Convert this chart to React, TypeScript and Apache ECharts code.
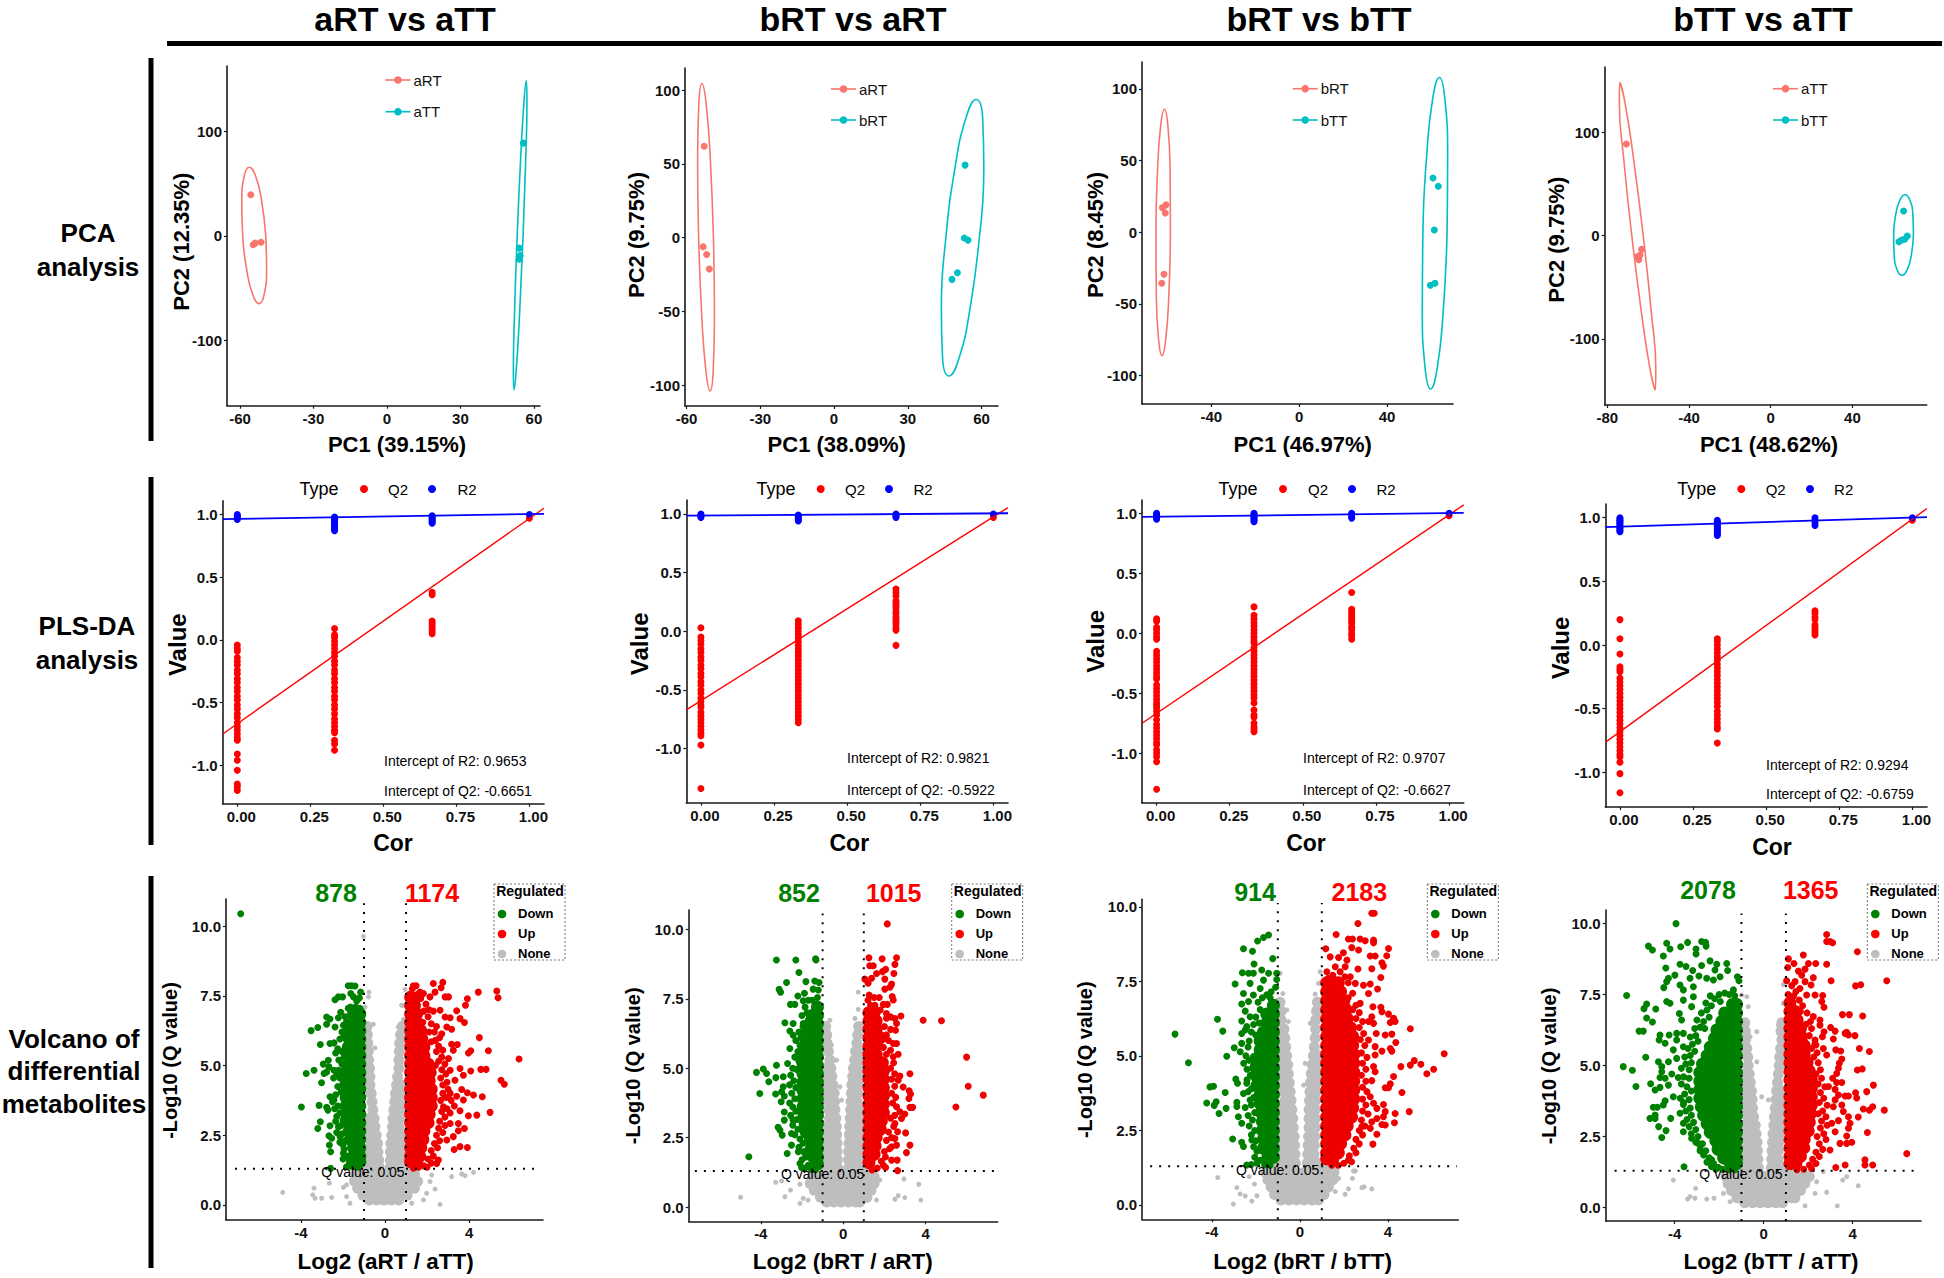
import React, { useEffect, useRef } from "react";
import * as echarts from "echarts";

// ---------- column heads and labels ----------
const columnTitles = ["aRT vs aTT", "bRT vs aRT", "bRT vs bTT", "bTT vs aTT"];
const pcaXNames = ["PC1 (39.15%)", "PC1 (38.09%)", "PC1 (46.97%)", "PC1 (48.62%)"];
const pcaYNames = ["PC2 (12.35%)", "PC2 (9.75%)", "PC2 (8.45%)", "PC2 (9.75%)"];
const pcaGroups = [["aRT", "aTT"], ["aRT", "bRT"], ["bRT", "bTT"], ["aTT", "bTT"]];
const volcanoXNames = ["Log2 (aRT / aTT)", "Log2 (bRT / aRT)", "Log2 (bRT / bTT)", "Log2 (bTT / aTT)"];
const downCounts = ["878", "852", "914", "2078"];
const upCounts = ["1174", "1015", "2183", "1365"];
const r2Notes = ["Intercept of R2: 0.9653", "Intercept of R2: 0.9821", "Intercept of R2: 0.9707", "Intercept of R2: 0.9294"];
const q2Notes = ["Intercept of Q2: -0.6651", "Intercept of Q2: -0.5922", "Intercept of Q2: -0.6627", "Intercept of Q2: -0.6759"];

// ---------- ticks ----------
const pcaXTicks = [[-60, -30, 0, 30, 60], [-60, -30, 0, 30, 60], [-40, 0, 40], [-80, -40, 0, 40]];
const pcaYTicks = [[-100, 0, 100], [-100, -50, 0, 50, 100], [-100, -50, 0, 50, 100], [-100, 0, 100]];
const plsXTicks = [0, 0.25, 0.5, 0.75, 1];
const plsYTicks = [-1, -0.5, 0, 0.5, 1];
const volXTicks = [-4, 0, 4];
const volYTicks = [0, 2.5, 5, 7.5, 10];

// ---------- PCA points ----------
const pca1A = [[-55.6, 39.4], [-54.6, -8.6], [-53.8, -7], [-51.4, -6.1]];
const pca1B = [[55.7, 89], [54, -11.8], [54.4, -18.9], [54, -22.4]];
const pca2A = [[-52.8, 62], [-53.2, -6.1], [-51.8, -11.3], [-50.7, -21.2]];
const pca2B = [[53.3, 49.2], [53, -0.2], [54.5, -1.6], [50.2, -23.7], [48, -28.2]];
const pca3A = [[-62.2, 17.2], [-60.6, 19.1], [-60.9, 13.5], [-61.5, -29.3], [-62.5, -35.6]];
const pca3B = [[60.9, 37.9], [63.3, 32.1], [61.5, 1.6], [61.8, -35.6], [59.7, -37]];
const pca4A = [[-70.7, 88.7], [-63.2, -13.2], [-65.3, -20.3], [-64, -18.7], [-64.6, -23.2]];
const pca4B = [[65.1, 23.9], [66.9, -0.3], [65.6, -3.5], [64.2, -4.2], [62.8, -5.8]];

// ---------- PCA ellipse outlines ----------
const ell1A = [[-49.5, 0.45], [-49.13, -32.28], [-50.12, -56.23], [-52.2, -65], [-54.82, -56.23], [-57.27, -32.28], [-58.9, 0.45], [-59.27, 33.18], [-58.28, 57.13], [-56.2, 65.9], [-53.58, 57.13], [-51.13, 33.18], [-49.5, 0.45]];
const ell1B = [[55.6, 0.5], [54.19, -73.65], [52.83, -127.9], [51.9, -147.8], [51.63, -127.9], [52.11, -73.65], [53.2, 0.5], [54.61, 74.65], [55.97, 128.9], [56.9, 148.8], [57.17, 128.9], [56.69, 74.65], [55.6, 0.5]];
const ell2A = [[-49.05, 0.35], [-48.62, -51.73], [-49.12, -89.84], [-50.4, -103.8], [-52.12, -89.84], [-53.82, -51.73], [-55.05, 0.35], [-55.48, 52.43], [-54.98, 90.54], [-53.7, 104.5], [-51.98, 90.54], [-50.28, 52.43], [-49.05, 0.35]];
const ell2B = [[59.1, 0], [55.44, -46.85], [50.94, -81.14], [46.8, -93.7], [44.14, -81.14], [43.66, -46.85], [45.5, 0], [49.16, 46.85], [53.66, 81.14], [57.8, 93.7], [60.46, 81.14], [60.94, 46.85], [59.1, 0]];
const ell3A = [[-58.55, -0.1], [-59.27, -43.05], [-60.68, -74.49], [-62.4, -86], [-63.98, -74.49], [-64.99, -43.05], [-65.15, -0.1], [-64.43, 42.85], [-63.02, 74.29], [-61.3, 85.8], [-59.72, 74.29], [-58.71, 42.85], [-58.55, -0.1]];
const ell3B = [[67.3, -0.65], [65.56, -54.98], [62.82, -94.74], [59.8, -109.3], [57.32, -94.74], [56.04, -54.98], [56.3, -0.65], [58.04, 53.68], [60.78, 93.44], [63.8, 108], [66.28, 93.44], [67.56, 53.68], [67.3, -0.65]];
const ell4A = [[-62.4, -0.5], [-58.43, -74.95], [-56.27, -129.4], [-56.5, -149.4], [-59.07, -129.4], [-63.27, -74.95], [-68, -0.5], [-71.97, 73.95], [-74.13, 128.4], [-73.9, 148.4], [-71.33, 128.4], [-67.13, 73.95], [-62.4, -0.5]];
const ell4B = [[69.9, 0.65], [68.87, -18.88], [66.83, -33.17], [64.3, -38.4], [61.97, -33.17], [60.47, -18.88], [60.2, 0.65], [61.23, 20.18], [63.27, 34.47], [65.8, 39.7], [68.13, 34.47], [69.63, 20.18], [69.9, 0.65]];

// ---------- PLS-DA permutation values, one list per Cor column ----------
const plsCor = [0, 0.333, 0.667, 1];
const p1Q2 = [
  [-0.04, -0.07, -0.09, -0.14, -0.17, -0.2, -0.24, -0.27, -0.31, -0.34, -0.38, -0.41, -0.45, -0.48, -0.52, -0.55, -0.59, -0.62, -0.66, -0.69, -0.72, -0.75, -0.78, -0.8, -0.91, -0.96, -1.04, -1.15, -1.17, -1.2],
  [0.09, 0.04, 0.02, -0.01, -0.04, -0.07, -0.1, -0.13, -0.17, -0.2, -0.24, -0.27, -0.31, -0.34, -0.38, -0.41, -0.45, -0.48, -0.52, -0.55, -0.59, -0.63, -0.66, -0.69, -0.72, -0.74, -0.8, -0.83, -0.88],
  [0.38, 0.36, 0.15, 0.13, 0.11, 0.09, 0.07, 0.05],
  [0.97],
];
const p1R2 = [
  [1, 0.99, 0.98, 0.97, 0.96],
  [0.98, 0.97, 0.96, 0.95, 0.94, 0.93, 0.92, 0.91, 0.9, 0.89, 0.88, 0.87],
  [0.99, 0.98, 0.97, 0.96, 0.95, 0.94, 0.93],
  [1],
];
const p2Q2 = [
  [0.03, -0.05, -0.08, -0.11, -0.15, -0.18, -0.22, -0.25, -0.29, -0.32, -0.36, -0.39, -0.43, -0.46, -0.5, -0.53, -0.57, -0.6, -0.63, -0.65, -0.69, -0.72, -0.75, -0.78, -0.81, -0.84, -0.87, -0.89, -0.97, -1.34],
  [0.09, 0.06, 0.03, 0, -0.03, -0.06, -0.09, -0.12, -0.15, -0.18, -0.21, -0.24, -0.27, -0.3, -0.33, -0.36, -0.39, -0.42, -0.45, -0.48, -0.51, -0.54, -0.57, -0.6, -0.63, -0.66, -0.69, -0.72, -0.75, -0.78],
  [0.36, 0.33, 0.3, 0.26, 0.24, 0.22, 0.2, 0.17, 0.15, 0.12, 0.1, 0.08, 0.06, 0.03, 0.01, -0.12],
  [0.97],
];
const p2R2 = [
  [1, 0.99, 0.98, 0.97],
  [0.99, 0.98, 0.97, 0.96, 0.95, 0.94],
  [1, 0.99, 0.98, 0.97],
  [1],
];
const p3Q2 = [
  [0.12, 0.1, 0.05, 0.03, 0, -0.03, -0.05, -0.15, -0.18, -0.21, -0.24, -0.27, -0.3, -0.33, -0.36, -0.38, -0.43, -0.46, -0.49, -0.52, -0.55, -0.58, -0.6, -0.62, -0.65, -0.68, -0.72, -0.76, -0.79, -0.82, -0.85, -0.88, -0.91, -0.93, -0.97, -1, -1.03, -1.07, -1.3],
  [0.22, 0.15, 0.12, 0.09, 0.06, 0.03, 0, -0.03, -0.06, -0.08, -0.12, -0.15, -0.18, -0.21, -0.24, -0.27, -0.3, -0.33, -0.36, -0.39, -0.42, -0.45, -0.48, -0.51, -0.54, -0.58, -0.64, -0.68, -0.7, -0.75, -0.78, -0.8, -0.82],
  [0.34, 0.2, 0.18, 0.16, 0.14, 0.12, 0.1, 0.08, 0.05, 0.03, 0, -0.02, -0.05],
  [0.98],
];
const p3R2 = [
  [1, 0.99, 0.98, 0.97, 0.96, 0.95],
  [1, 0.99, 0.98, 0.97, 0.96, 0.95, 0.94, 0.93],
  [1, 0.99, 0.97, 0.96],
  [1],
];
const p4Q2 = [
  [0.2, 0.05, -0.07, -0.17, -0.19, -0.21, -0.26, -0.29, -0.32, -0.35, -0.38, -0.41, -0.44, -0.47, -0.5, -0.53, -0.56, -0.59, -0.62, -0.65, -0.68, -0.71, -0.74, -0.77, -0.8, -0.83, -0.86, -0.88, -0.92, -1.01, -1.16],
  [0.05, 0.03, 0, -0.03, -0.06, -0.09, -0.12, -0.15, -0.18, -0.21, -0.24, -0.27, -0.3, -0.33, -0.36, -0.39, -0.42, -0.45, -0.48, -0.52, -0.55, -0.58, -0.61, -0.64, -0.66, -0.77],
  [0.27, 0.25, 0.22, 0.2, 0.16, 0.14, 0.12, 0.1, 0.08],
  [0.98],
];
const p4R2 = [
  [1, 0.99, 0.98, 0.97, 0.96, 0.95, 0.94, 0.93, 0.92, 0.91, 0.9, 0.89],
  [0.98, 0.97, 0.96, 0.95, 0.94, 0.93, 0.92, 0.91, 0.9, 0.89, 0.88, 0.87, 0.86],
  [1, 0.98, 0.96, 0.94],
  [1],
];
const p1Lines = { q: [[-0.05, -0.75], [1.05, 1.05]], r: [[-0.05, 0.963], [1.05, 1.005]] };
const p2Lines = { q: [[-0.05, -0.67], [1.05, 1.054]], r: [[-0.05, 0.986], [1.05, 1.006]] };
const p3Lines = { q: [[-0.05, -0.75], [1.05, 1.07]], r: [[-0.05, 0.97], [1.05, 1.003]] };
const p4Lines = { q: [[-0.05, -0.764], [1.05, 1.073]], r: [[-0.05, 0.927], [1.05, 1.005]] };

// ---------- volcano: single points [log2, -log10 q] ----------
const v1Down = [[-6.87, 10.44], [-3.52, 6.25], [-3.2, 6.36], [-3.08, 5.75], [-3.75, 4.71], [-3.38, 4.83], [-3.02, 4.38], [-3.98, 3.51], [-3.14, 3.57], [-3.08, 2.98], [-3.2, 2.74], [-2.62, 2.84], [-2.67, 2.48], [-2.54, 2.39], [-2.65, 2.15], [-2.59, 1.91], [-2.59, 1.31], [-1.75, 7.86], [-1.59, 7.86], [-1.43, 7.85], [-1.16, 7.63], [-1.63, 7.58], [-1.5, 7.46], [-1.22, 7.42], [-1.35, 7.31], [-2.38, 7.36], [-2.22, 7.46], [-2.02, 7.46], [-2.78, 6.74], [-2.62, 6.67], [-2.11, 6.91], [-2.22, 6.71], [-2.78, 6.48], [-2.38, 6.38], [-1.98, 6.44], [-2.62, 5.79], [-2.43, 5.81], [-2.94, 5.05], [-2.7, 5.19], [-2.67, 4.95], [-2.9, 4.71], [-2.78, 4.77], [-2.43, 4.83], [-2.22, 4.83], [-2.06, 4.71], [-2.62, 3.88], [-2.43, 3.76], [-2.78, 3.5], [-2.72, 3.4], [-2.3, 3.17], [-2.22, 2.8], [-2.14, 2.45], [-2.0, 2.15], [-1.98, 1.85], [-1.83, 1.37], [-1.59, 1.4],
  [-1.75, 7.05], [-1.9, 6.75], [-1.65, 7.1], [-1.4, 7.1], [-1.2, 7.05], [-1.85, 6.55], [-2.05, 6.2], [-1.95, 6.05], [-2.15, 5.95], [-2.25, 5.6], [-2.05, 5.5], [-1.95, 5.3], [-2.2, 5.2], [-2.35, 5.45], [-2.05, 5.05], [-2.3, 4.65], [-2.45, 4.55], [-2.15, 4.55], [-2.0, 4.35], [-2.25, 4.25], [-2.1, 4.05], [-2.35, 3.95], [-2.5, 3.7], [-2.25, 3.55], [-2.4, 3.45], [-2.15, 3.3], [-2.0, 3.05], [-2.35, 3.0], [-2.1, 2.85], [-2.3, 2.6], [-2.05, 2.55], [-2.15, 2.25], [-1.9, 2.3], [-1.95, 2.0], [-1.85, 1.75], [-2.0, 1.65], [-1.7, 1.55], [-1.65, 1.4], [-1.45, 1.38], [-1.3, 1.35]];
const v1Up = [[1.35, 7.86], [1.48, 7.86], [2.3, 7.94], [2.75, 7.98], [2.67, 7.79], [4.44, 7.63], [5.32, 7.67], [5.38, 7.43], [3.92, 7.39], [3.83, 7.16], [3.41, 6.96], [3.57, 6.68], [3.78, 6.54], [2.86, 7.46], [3.02, 7.46], [2.38, 7.63], [2.14, 7.46], [1.83, 7.58], [1.67, 7.63], [2.62, 6.98], [2.86, 6.74], [3.1, 6.71], [3.17, 6.3], [2.7, 6.14], [2.94, 6.38], [4.49, 6], [3.17, 5.76], [3.44, 5.75], [3.25, 5.55], [4.92, 5.53], [4.08, 5.53], [3.97, 5.45], [6.38, 5.23], [3.02, 5.25], [3.57, 4.89], [4.08, 4.8], [4.56, 4.86], [4.81, 4.86], [5.52, 4.47], [5.68, 4.33], [3.73, 4.65], [3.33, 4.47], [3.1, 4.83], [3.65, 4.14], [3.92, 4.02], [4.21, 3.94], [4.63, 3.88], [3.73, 3.76], [3.41, 3.9], [3.1, 4], [2.78, 3.52], [3.57, 3.38], [5, 3.32], [4.37, 3.22], [3.97, 3.2], [3.49, 2.92], [3.78, 2.74], [3.49, 2.66], [3.1, 2.92], [3.25, 2.45], [2.94, 2.33], [3.57, 2.09], [3.92, 2.06], [3.29, 1.99], [2.46, 1.49], [2.54, 1.61],
  [1.3, 7.75], [1.55, 7.55], [1.7, 7.4], [1.45, 7.3], [1.95, 7.2], [2.1, 7], [1.85, 6.95], [2.3, 6.95], [2.05, 6.75], [1.8, 6.55], [2.2, 6.5], [2.45, 6.4], [2.35, 6.2], [2.1, 6.2], [2.6, 6.0], [2.4, 5.9], [2.2, 5.85], [2.55, 5.7], [2.75, 5.55], [2.45, 5.5], [2.7, 5.3], [2.55, 5.15], [2.85, 5.05], [2.4, 5.0], [2.7, 4.85], [2.9, 4.7], [2.65, 4.55], [2.95, 4.4], [2.75, 4.3], [3.0, 4.15], [2.75, 4.0], [2.9, 3.85], [3.15, 3.75], [2.65, 3.75], [3.3, 3.55], [2.95, 3.45], [2.7, 3.35], [3.1, 3.3], [2.85, 3.15], [2.6, 3.0], [2.85, 2.85], [2.55, 2.75], [2.75, 2.6], [2.45, 2.5], [2.6, 2.3], [2.35, 2.2], [2.5, 2.05], [2.2, 1.95], [2.3, 1.75], [2.05, 1.65], [2.2, 1.5], [1.85, 1.4], [2.0, 1.35], [1.6, 1.35], [1.35, 1.32]];
const v1None = [[-4.87, 0.45], [-3.38, 0.6], [-3.44, 0.36], [-3.02, 0.24], [-3.33, 0.24], [-2.54, 0.27], [-2.65, 0.78], [-1.83, 0.72], [-1.98, 0.63], [-1.83, 0.3], [-1.67, 0.06], [1.83, 0.18], [1.27, 0.06], [2.62, 0.02], [1.98, 0.42], [2.38, 0.57], [2.14, 0.84], [3.17, 1.01], [3.65, 1.11], [3.81, 1.05], [4.21, 1.17], [2.22, 1.07], [-1.03, 9.63], [-0.76, 7.63], [-0.79, 7.46], [-0.95, 7.1], [0.95, 7.73], [0.9, 7.16], [0.79, 7.16], [-0.56, 6.48], [-0.79, 6.26], [-0.48, 5.63], [0.63, 6.38], [0.87, 6.65]];

const v2Down = [[-3.24, 8.9], [-2.3, 8.9], [-1.34, 8.94], [-1.32, 8.9], [-2.15, 8.45], [-2.75, 8.09], [-1.81, 8.12], [-1.38, 8.14], [-1.17, 8.09], [-3.11, 7.84], [-3.04, 7.74], [-1.46, 7.85], [-1.21, 7.82], [-1.88, 7.7], [-2.2, 7.6], [-2.56, 7.3], [-2.35, 7.3], [-1.94, 7.43], [-2.83, 6.64], [-2.43, 6.61], [-2.59, 6.34], [-2.43, 6.19], [-1.94, 6.61], [-1.7, 6.73], [-2.59, 5.71], [-2.1, 5.83], [-3.24, 5.11], [-2.7, 5.17], [-4.21, 4.85], [-3.88, 4.97], [-3.72, 4.81], [-3.61, 4.51], [-3.27, 4.66], [-2.91, 4.69], [-4.05, 4.09], [-3.28, 4.07], [-2.91, 4.33], [-2.99, 4.15], [-2.86, 4], [-3.01, 3.79], [-2.86, 3.42], [-2.86, 3.13], [-3.16, 2.87], [-3.07, 2.77], [-2.96, 2.59], [-2.43, 3.13], [-2.51, 2.65], [-2.51, 2.23], [-2.72, 1.93], [-2.18, 1.99], [-4.58, 1.81], [-2.1, 1.57], [-2.02, 1.42], [-1.86, 1.93],
  [-1.5, 7.45], [-1.25, 7.55], [-1.7, 7.45], [-1.85, 7.2], [-1.75, 7.0], [-2.0, 6.9], [-1.95, 6.5], [-2.15, 6.3], [-2.05, 6.1], [-2.3, 6.0], [-2.2, 5.6], [-2.35, 5.4], [-2.15, 5.25], [-2.45, 5.0], [-2.25, 4.95], [-2.55, 4.75], [-2.4, 4.55], [-2.6, 4.4], [-2.3, 4.3], [-2.5, 4.1], [-2.35, 3.9], [-2.6, 3.75], [-2.45, 3.6], [-2.3, 3.45], [-2.55, 3.3], [-2.25, 3.15], [-2.45, 2.95], [-2.2, 2.8], [-2.35, 2.6], [-2.1, 2.45], [-1.95, 2.3], [-2.15, 2.15], [-1.9, 2.0], [-1.8, 1.8], [-2.0, 1.7], [-1.7, 1.5], [-1.85, 1.4], [-1.55, 1.35], [-1.35, 1.33]];
const v2Up = [[2.14, 10.2], [1.25, 8.98], [1.89, 8.94], [2.59, 8.98], [2.51, 8.74], [1.29, 8.69], [1.46, 8.69], [2.06, 8.56], [1.91, 8.48], [2.46, 8.41], [1.05, 8.21], [1.62, 8.41], [1.38, 8.24], [2.02, 8.21], [1.21, 8.06], [2.35, 8.03], [2.02, 7.85], [2.27, 7.92], [1.26, 7.64], [2.38, 7.58], [2.43, 7.46], [1.33, 7.27], [1.54, 7.27], [2.14, 7.3], [2.1, 6.97], [2.8, 6.88], [2.51, 6.79], [2.59, 6.61], [3.88, 6.73], [4.77, 6.71], [2.54, 6.37], [2.59, 5.89], [2.43, 5.89], [2.67, 5.5], [2.43, 5.41], [5.99, 5.4], [3.24, 4.8], [2.75, 4.72], [2.67, 4.57], [2.91, 4.32], [6.07, 4.35], [3.2, 4.19], [3.27, 4.07], [3.19, 3.91], [6.8, 4.03], [5.47, 3.6], [3.24, 3.59], [3.37, 3.59], [2.59, 3.61], [2.75, 3.43], [2.99, 3.35], [2.83, 3.19], [2.51, 3.01], [2.64, 2.71], [3.03, 2.67], [2.51, 2.47], [3.24, 2.23], [2.59, 2.23], [2.35, 2.17], [3.07, 1.96], [2.62, 1.69], [2.35, 1.69], [2.06, 1.42], [2.64, 1.31],
  [1.2, 7.45], [1.5, 7.55], [1.75, 7.55], [1.95, 7.3], [1.8, 7.1], [2.1, 6.8], [2.3, 6.85], [2.0, 6.5], [2.3, 6.4], [2.1, 6.2], [2.2, 6.0], [1.95, 5.75], [2.3, 5.65], [2.1, 5.5], [2.45, 5.2], [2.3, 5.0], [2.5, 4.8], [2.35, 4.6], [2.5, 4.35], [2.35, 4.1], [2.55, 3.95], [2.4, 3.75], [2.5, 3.3], [2.3, 3.2], [2.45, 2.9], [2.2, 2.7], [2.35, 2.5], [2.1, 2.4], [2.25, 2.1], [2.0, 2.0], [2.05, 1.8], [1.85, 1.65], [1.95, 1.5], [1.65, 1.4], [1.4, 1.33]];
const v2None = [[-4.98, 0.35], [-3.28, 0.89], [-2.99, 0.94], [-2.1, 0.82], [-2.56, 0.61], [-2.83, 0.37], [-2.1, 0.13], [-1.7, 0.25], [-1.94, 0.31], [2.95, 1.01], [3.67, 0.82], [2.67, 0.41], [2.51, 0.28], [2.99, 0.34], [3.77, 0.25], [1.78, 0.97], [1.62, 0.25], [0.73, 7.74], [0.73, 7.12], [0.57, 6.79], [-0.65, 6.73], [-0.57, 5.83], [-0.81, 6.49], [-0.16, 4.33], [-0.08, 3.85], [-0.32, 5.29]];

const v3Down = [[-1.42, 9.05], [-1.65, 8.97], [-1.92, 8.85], [-2.56, 8.59], [-2.15, 8.51], [-1.23, 8.26], [-2.08, 8.08], [-1.73, 7.88], [-2.61, 7.79], [-2.33, 7.77], [-2.11, 7.77], [-1.42, 7.77], [-1.05, 7.77], [-1.05, 7.56], [-1.65, 7.54], [-2.94, 7.41], [-2.26, 7.43], [-1.8, 7.26], [-2.56, 7.09], [-2.11, 7.04], [-2.64, 6.74], [-2.33, 6.82], [-2.48, 6.5], [-2.26, 6.31], [-3.74, 6.23], [-2.64, 6.17], [-3.5, 5.83], [-5.67, 5.73], [-2.64, 5.75], [-2.48, 5.87], [-2.41, 5.98], [-2.98, 5.27], [-2.64, 5.42], [-2.71, 5.14], [-3.32, 4.99], [-5.06, 4.77], [-2.91, 4.22], [-2.83, 4.08], [-4.08, 3.96], [-3.92, 3.98], [-3.39, 3.77], [-2.41, 4.08], [-2.56, 3.74], [-4.23, 3.42], [-3.8, 3.46], [-3.89, 3.34], [-2.86, 3.44], [-2.86, 3.3], [-3.35, 3.24], [-3.67, 3.07], [-2.48, 3.27], [-2.26, 3.52], [-2.79, 2.96], [-2.64, 2.74], [-3.05, 2.21], [-2.64, 2.1], [-2.56, 1.96], [-2.18, 2.18], [-2.41, 1.34], [-2.21, 1.36],
  [-1.1, 7.3], [-1.3, 7.15], [-1.5, 7.05], [-1.7, 6.95], [-1.35, 6.95], [-1.9, 6.8], [-1.8, 6.55], [-2.0, 6.3], [-1.85, 6.1], [-2.1, 6.05], [-2.2, 5.8], [-2.0, 5.7], [-2.3, 5.5], [-2.35, 5.3], [-2.45, 5.0], [-2.3, 4.85], [-2.55, 4.75], [-2.4, 4.55], [-2.25, 4.35], [-2.4, 4.2], [-2.2, 3.9], [-2.35, 3.8], [-2.1, 3.6], [-2.2, 3.35], [-2.05, 3.1], [-2.35, 3.0], [-2.15, 2.85], [-2.3, 2.65], [-2.05, 2.5], [-2.2, 2.35], [-2.0, 2.15], [-2.1, 1.95], [-1.95, 1.8], [-2.05, 1.6], [-1.8, 1.5], [-1.95, 1.4], [-1.6, 1.35], [-1.35, 1.33]];
const v3Up = [[3.27, 9.78], [3.38, 9.78], [2.64, 9.44], [1.65, 9.07], [2.21, 8.92], [2.39, 8.92], [2.74, 8.92], [2.97, 8.86], [3.35, 8.88], [3.35, 8.79], [4.03, 8.6], [1.18, 8.59], [2.36, 8.63], [2.67, 8.55], [1.98, 8.46], [3.95, 8.36], [3.2, 8.35], [3.42, 8.35], [1.38, 8.32], [1.76, 8.3], [2.14, 8.21], [3.73, 8.12], [3.8, 8.01], [1.61, 7.99], [2.06, 7.99], [2.64, 7.91], [3.27, 7.92], [1.23, 7.82], [1.83, 7.82], [2.29, 7.65], [3.68, 7.63], [2.52, 7.43], [3.2, 7.41], [2.89, 7.37], [3.53, 7.24], [3.12, 7.09], [2.74, 6.76], [3.32, 6.65], [3.68, 6.63], [3.73, 6.48], [4.03, 6.4], [3.27, 6.31], [4.26, 6.26], [4.11, 6.12], [4.33, 6.15], [3.12, 6.15], [3.35, 6.09], [5.02, 5.91], [3.47, 5.75], [3.88, 5.7], [4.18, 5.73], [4.36, 5.45], [3.12, 5.53], [3.42, 5.31], [4.11, 5.25], [3.73, 5.16], [4.18, 5.16], [6.56, 5.07], [3.42, 5.03], [5.2, 4.84], [5.02, 4.69], [5.5, 4.72], [4.59, 4.64], [6.08, 4.55], [5.77, 4.4], [3.35, 4.64], [3.42, 4.47], [4.26, 4.31], [3.27, 4.17], [4.11, 4.06], [3.88, 3.93], [4.03, 3.93], [4.64, 3.77], [3.2, 3.63], [3.35, 3.41], [3.8, 3.37], [3.5, 3.24], [4.33, 3.07], [4.97, 3.13], [3.88, 3.13], [3.8, 2.96], [3.5, 2.9], [3.27, 2.79], [4.3, 2.76], [3.73, 2.7], [3.88, 2.68], [3.2, 2.57], [3.5, 2.37], [3.32, 2.04], [2.82, 2.63], [2.21, 1.51],
  [2.05, 7.65], [2.2, 7.45], [1.5, 7.7], [1.3, 7.6], [2.4, 7.1], [2.2, 6.95], [2.55, 6.7], [2.4, 6.55], [2.7, 6.45], [2.55, 6.25], [2.85, 6.15], [2.7, 5.95], [2.9, 5.75], [2.75, 5.55], [2.95, 5.35], [2.8, 5.1], [3.05, 4.95], [2.85, 4.75], [3.0, 4.55], [2.8, 4.35], [3.0, 4.15], [2.85, 3.95], [3.05, 3.8], [2.85, 3.55], [3.0, 3.35], [2.85, 3.15], [3.1, 3.05], [2.8, 2.85], [2.95, 2.65], [2.7, 2.5], [2.85, 2.35], [2.55, 2.2], [2.7, 2.05], [2.45, 1.9], [2.55, 1.75], [2.25, 1.65], [2.35, 1.45], [2.0, 1.4], [1.75, 1.33], [1.45, 1.33]];
const v3None = [[-3.73, 0.92], [-2.86, 0.58], [-2.71, 0.37], [-2.48, 0.3], [-3.02, 0.03], [-2.18, 0.13], [-1.95, 0.31], [-2.3, 0.95], [-2.06, 0.7], [2.44, 1.14], [2.52, 1.14], [2.39, 0.89], [1.76, 0.89], [2.21, 0.54], [2.82, 0.58], [3.27, 0.54], [2.92, 0.61], [2.06, 0.36], [1.61, 0.45], [-0.89, 7.77], [0.92, 7.82], [0.85, 7.43], [0.7, 7.07], [-0.77, 7.09], [-0.59, 6.54], [-0.52, 6.15], [0.47, 6.09], [0.24, 4.75], [0.17, 4.02]];

const v4Down = [[-3.94, 9.99], [-5.18, 9.2], [-5, 9.06], [-4.36, 9.3], [-4.21, 9.1], [-3.73, 9.18], [-3.42, 9.33], [-3.04, 9.1], [-3.04, 8.92], [-2.79, 9.36], [-2.61, 9.33], [-2.59, 9.2], [-4.51, 8.85], [-2.41, 8.68], [-2.11, 8.56], [-1.66, 8.59], [-3.76, 8.56], [-3.49, 8.48], [-2.79, 8.52], [-4.4, 8.43], [-3.19, 8.34], [-2.19, 8.36], [-1.62, 8.34], [-1.18, 8.12], [-1.11, 7.98], [-3.99, 8.18], [-4.28, 8.07], [-4.36, 7.95], [-3.31, 8.07], [-2.91, 8.15], [-2.56, 8.07], [-1.96, 8.12], [-2.26, 8.01], [-4.49, 7.74], [-3.76, 7.83], [-3.16, 7.77], [-1.36, 7.66], [-3.61, 7.66], [-3.16, 7.42], [-6.16, 7.46], [-4.36, 7.25], [-3.61, 7.3], [-5.26, 7.16], [-5.38, 7], [-4.85, 6.99], [-4.21, 7.19], [-3.24, 7.07], [-5.26, 6.67], [-5, 6.53], [-3.79, 6.83], [-3.69, 6.6], [-5.6, 6.21], [-5.41, 6.21], [-4.66, 6.07], [-4.7, 5.9], [-4.25, 6.07], [-3.91, 6.13], [-3.61, 6.13], [-4.43, 5.78], [-4.06, 5.55], [-3.91, 5.9], [-3.61, 5.66], [-5.3, 5.29], [-6.31, 4.96], [-5.9, 4.83], [-5.74, 4.26], [-4.73, 5.13], [-4.28, 5.13], [-4.58, 4.96], [-4.58, 4.78], [-4.13, 4.7], [-3.91, 5.25], [-4.66, 4.58], [-4.43, 4.55], [-5.08, 4.36], [-4.28, 4.31], [-4.66, 4.23], [-4.88, 4.14], [-3.84, 4.58], [-4.06, 3.9], [-4.43, 3.76], [-4.96, 3.53], [-4.78, 3.53], [-4.51, 3.61], [-5.11, 3.14], [-4.88, 3.26], [-4.88, 3.14], [-4.18, 3.14], [-3.61, 3.63], [-3.76, 3.32], [-4.72, 2.85], [-4.39, 2.71], [-4.58, 2.47], [-3.61, 2.97], [-3.61, 2.67], [-3.24, 2.44], [-2.94, 2.26], [-2.86, 2], [-2.34, 1.68], [-3.58, 1.44],
  [-1.3, 7.45], [-1.55, 7.5], [-1.75, 7.55], [-2.0, 7.5], [-2.2, 7.35], [-2.4, 7.45], [-1.95, 7.25], [-2.35, 7.1], [-2.6, 7.2], [-2.55, 6.95], [-2.8, 6.85], [-2.45, 6.7], [-2.7, 6.55], [-3.0, 6.6], [-2.85, 6.35], [-3.1, 6.3], [-2.65, 6.3], [-3.05, 6.05], [-3.3, 6.0], [-2.95, 5.85], [-3.2, 5.75], [-3.4, 5.6], [-3.1, 5.5], [-3.3, 5.35], [-3.55, 5.3], [-3.25, 5.1], [-3.5, 5.05], [-3.7, 4.9], [-3.35, 4.85], [-3.6, 4.6], [-3.35, 4.55], [-3.7, 4.35], [-3.45, 4.25], [-3.25, 4.1], [-3.55, 4.0], [-3.75, 3.85], [-3.35, 3.8], [-3.6, 3.7], [-3.3, 3.5], [-3.5, 3.4], [-3.25, 3.25], [-3.45, 3.1], [-3.15, 3.0], [-3.35, 2.85], [-3.05, 2.75], [-3.25, 2.6], [-2.95, 2.5], [-3.05, 2.3], [-2.75, 2.25], [-2.85, 2.05], [-2.6, 2.0], [-2.7, 1.85], [-2.45, 1.75], [-2.55, 1.6], [-2.25, 1.55], [-2.35, 1.45], [-2.05, 1.42], [-2.15, 1.35], [-1.85, 1.35], [-1.55, 1.33], [-1.3, 1.33]];
const v4Up = [[2.83, 9.61], [2.83, 9.36], [2.98, 9.36], [3.1, 9.32], [1.78, 8.89], [4.21, 9], [1.11, 8.75], [1.36, 8.59], [2.01, 8.59], [2.34, 8.59], [2.83, 8.56], [1.08, 8.45], [1.86, 8.39], [1.56, 8.32], [1.71, 8.18], [2.23, 8.09], [1.03, 7.98], [3.03, 7.98], [5.53, 7.98], [1.41, 7.95], [1.86, 7.95], [2.13, 7.83], [4.13, 7.8], [4.36, 7.84], [1.26, 7.81], [1.63, 7.71], [1.93, 7.48], [2.31, 7.48], [2.65, 7.46], [2.61, 7.25], [2.71, 7.05], [3.54, 6.79], [3.85, 6.79], [4.45, 6.74], [2.23, 6.72], [2.53, 6.6], [2.53, 6.42], [3.01, 6.34], [3.21, 6.21], [2.71, 6.19], [3.73, 6.17], [3.66, 6.13], [4.1, 6.05], [3.81, 6.07], [2.64, 6.01], [3.13, 5.93], [2.31, 5.9], [2.35, 5.72], [4.3, 5.6], [2.68, 5.6], [3.24, 5.55], [3.46, 5.51], [4.75, 5.49], [2.83, 5.37], [3.51, 5.23], [3.4, 5.08], [3.36, 4.9], [4.21, 4.84], [4.43, 4.88], [3.28, 4.72], [3.1, 4.55], [3.51, 4.4], [3.28, 4.4], [2.91, 4.26], [3.21, 4.16], [4.93, 4.31], [4.63, 4.08], [4.13, 4.04], [3.36, 3.96], [3.81, 3.93], [3.66, 3.93], [4.18, 3.86], [3.21, 3.79], [3.51, 3.61], [4.48, 3.47], [4.75, 3.43], [4.9, 3.55], [5.42, 3.43], [3.13, 3.55], [3.58, 3.38], [4.25, 3.19], [3.81, 3.2], [3.36, 3.06], [3.88, 2.97], [3.06, 2.97], [3.81, 2.79], [4.66, 2.64], [3.21, 2.67], [3.73, 2.52], [3.73, 2.26], [3.96, 2.3], [3.43, 2.26], [6.43, 1.9], [2.98, 2.03], [4.55, 1.68], [4.55, 1.5], [4.9, 1.5], [3.66, 1.5], [3.24, 1.41],
  [1.1, 7.5], [1.35, 7.45], [1.6, 7.3], [1.45, 7.6], [1.75, 7.1], [1.95, 6.85], [1.65, 6.9], [2.1, 6.55], [1.9, 6.45], [2.15, 6.3], [2.05, 6.05], [2.3, 5.75], [2.15, 5.6], [2.4, 5.45], [2.25, 5.3], [2.45, 5.1], [2.55, 4.85], [2.35, 4.7], [2.6, 4.55], [2.45, 4.35], [2.75, 4.25], [2.55, 4.05], [2.7, 3.85], [2.5, 3.7], [2.85, 3.6], [2.65, 3.4], [2.45, 3.3], [2.8, 3.2], [2.6, 3.05], [2.85, 2.9], [2.55, 2.8], [2.7, 2.6], [2.4, 2.5], [2.8, 2.4], [2.5, 2.25], [2.65, 2.05], [2.35, 1.95], [2.5, 1.8], [2.2, 1.7], [2.35, 1.55], [2.05, 1.5], [2.15, 1.38], [1.8, 1.35], [1.5, 1.33]];
const v4None = [[-4.06, 0.97], [-3.06, 0.68], [-3.31, 0.39], [-3.42, 0.3], [-3.09, 0.33], [-2.56, 0.3], [-2.23, 0.33], [-1.81, 0.5], [-1.51, 0.21], [2.83, 0.54], [2.31, 0.5], [4.25, 0.77], [3.31, 0.06], [1.86, 0.06], [3.55, 0.97], [3.73, 1.09], [2.68, 1.27], [2.38, 0.91], [0.88, 7.85], [0.88, 7.19], [0.66, 6.42], [-0.31, 6.19], [-0.69, 7.07], [-0.76, 7.42], [-0.99, 7.48], [-0.61, 6.01], [-0.31, 5.13], [-0.09, 3.9], [0.21, 3.79]];

// ---------- volcano: crowded bands, one row per height: [y, x, x, ...] ----------
const v1DownRows = [[6.85, -1.2, -1.5], [6.55, -1.2, -1.5], [6.25, -1.2, -1.5, -1.7], [5.95, -1.2, -1.5, -1.7], [5.65, -1.2, -1.5, -1.75], [5.35, -1.2, -1.5, -1.75], [5.05, -1.2, -1.5, -1.75], [4.75, -1.2, -1.5, -1.85], [4.45, -1.2, -1.5, -1.8], [4.15, -1.2, -1.5, -1.8], [3.85, -1.2, -1.5, -1.85], [3.55, -1.2, -1.5, -1.85], [3.25, -1.2, -1.5, -1.8], [2.95, -1.2, -1.5, -1.75], [2.65, -1.2, -1.5, -1.7], [2.35, -1.2, -1.5, -1.65], [2.05, -1.2, -1.5], [1.75, -1.2, -1.5], [1.55, -1.2, -1.4]];
const v1UpRows = [[7.45, 1.22], [7.15, 1.22, 1.4], [6.85, 1.22, 1.5], [6.55, 1.22, 1.5], [6.25, 1.22, 1.5, 1.7], [5.95, 1.22, 1.5, 1.75], [5.65, 1.22, 1.5, 1.85], [5.35, 1.22, 1.5, 1.85], [5.05, 1.22, 1.5, 1.85, 2.05], [4.75, 1.22, 1.5, 1.85, 2.15], [4.45, 1.22, 1.5, 1.85, 2.1], [4.15, 1.22, 1.5, 1.85, 2.2], [3.85, 1.22, 1.5, 1.85, 2.2], [3.55, 1.22, 1.5, 1.85, 2.2], [3.25, 1.22, 1.5, 1.85, 2.1], [2.95, 1.22, 1.5, 1.85, 2.05], [2.65, 1.22, 1.5, 1.85], [2.35, 1.22, 1.5, 1.8], [2.05, 1.22, 1.5, 1.7], [1.75, 1.22, 1.5, 1.65], [1.55, 1.22, 1.5]];
const v1NoneRows = [[6.4, -0.86, 0.82], [6.1, -0.84, 0.74], [5.8, -0.82, 0.7], [5.5, -0.8, 0.68], [5.2, -0.78, 0.66], [4.9, -0.74, 0.66], [4.6, -0.72, 0.6], [4.3, -0.72, 0.55, 0.8], [4, -0.66, 0.5, 0.78], [3.7, -0.62, 0.46, 0.75], [3.4, -0.58, 0.42, 0.72], [3.1, -0.52, -0.78, 0.38, 0.7], [2.8, -0.48, -0.78, 0.36, 0.66], [2.5, -0.42, -0.72, 0.32, 0.62, 0.9], [2.2, -0.36, -0.66, 0.28, 0.58, 0.86], [1.9, -0.34, -0.64, -0.9, 0.26, 0.56, 0.84], [1.6, -0.3, -0.6, -0.88, 0.26, 0.54, 0.82], [1.35, -1.1, -0.86, -0.58, -0.28, 0.26, 0.54, 0.82, 1.1], [1.1, -1.4, -1.05, -0.7, -0.35, 0, 0.35, 0.7, 1.05, 1.4], [0.85, -1.45, -1.1, -0.75, -0.4, -0.05, 0.3, 0.65, 1, 1.35, 1.55], [0.6, -1.3, -0.95, -0.6, -0.25, 0.1, 0.45, 0.8, 1.15, 1.4], [0.35, -1.05, -0.7, -0.35, 0, 0.35, 0.7, 1.05], [0.18, -0.75, -0.4, -0.05, 0.3, 0.65]];

const v2DownRows = [[7.2, -1.25], [6.9, -1.25, -1.5], [6.6, -1.25, -1.6], [6.3, -1.25, -1.6, -1.75], [6, -1.25, -1.6, -1.8], [5.7, -1.25, -1.6, -1.85], [5.4, -1.25, -1.6, -1.9], [5.1, -1.25, -1.6, -1.95], [4.8, -1.25, -1.6, -1.95], [4.5, -1.25, -1.6, -1.95], [4.2, -1.25, -1.6, -1.95], [3.9, -1.25, -1.6, -1.95], [3.6, -1.25, -1.6, -1.95], [3.3, -1.25, -1.6, -1.9], [3, -1.25, -1.6, -1.85], [2.7, -1.25, -1.6, -1.8], [2.4, -1.25, -1.6], [2.1, -1.25, -1.55], [1.8, -1.25, -1.45], [1.55, -1.25]];
const v2UpRows = [[7, 1.25, 1.5], [6.7, 1.25, 1.6], [6.4, 1.25, 1.6], [6.1, 1.25, 1.6, 1.8], [5.8, 1.25, 1.6], [5.5, 1.25, 1.6], [5.2, 1.25, 1.6, 1.9], [4.9, 1.25, 1.6, 1.95], [4.6, 1.25, 1.6, 1.95], [4.3, 1.25, 1.6, 1.95], [4, 1.25, 1.6, 1.95], [3.7, 1.25, 1.6, 1.95], [3.4, 1.25, 1.6, 1.95], [3.1, 1.25, 1.6, 1.85], [2.8, 1.25, 1.6, 1.8], [2.5, 1.25, 1.6], [2.2, 1.25, 1.55], [1.9, 1.25, 1.5], [1.6, 1.25]];
const v2NoneRows = [[6.5, -0.85, 0.75], [6.2, -0.8, 0.7], [5.9, -0.78, 0.66], [5.6, -0.72, 0.6, 0.85], [5.3, -0.65, 0.56, 0.82], [5, -0.6, -0.88, 0.5, 0.8], [4.7, -0.55, -0.85, 0.46, 0.76], [4.4, -0.5, -0.8, 0.42, 0.72], [4.1, -0.44, -0.74, 0.4, 0.7], [3.8, -0.42, -0.72, 0.38, 0.68], [3.5, -0.4, -0.7, 0.36, 0.66, 0.9], [3.2, -0.36, -0.66, 0.34, 0.64, 0.9], [2.9, -0.34, -0.64, -0.9, 0.32, 0.62, 0.88], [2.6, -0.32, -0.62, -0.9, 0.3, 0.6, 0.86], [2.3, -0.3, -0.6, -0.88, 0.28, 0.58, 0.86], [2, -0.3, -0.58, -0.88, 0.26, 0.56, 0.84], [1.7, -0.28, -0.56, -0.85, 0.26, 0.54, 0.82], [1.4, -1.15, -0.82, -0.54, -0.26, 0.26, 0.54, 0.82, 1.15], [1.1, -1.5, -1.15, -0.8, -0.45, -0.1, 0.25, 0.6, 0.95, 1.3, 1.5], [0.85, -1.6, -1.25, -0.9, -0.55, -0.2, 0.15, 0.5, 0.85, 1.2, 1.5], [0.6, -1.4, -1.05, -0.7, -0.35, 0, 0.35, 0.7, 1.05, 1.35], [0.35, -1.1, -0.75, -0.4, -0.05, 0.3, 0.65, 1, 1.15], [0.18, -0.8, -0.45, -0.1, 0.25, 0.6, 0.8]];

const v3DownRows = [[6.7, -1.2], [6.4, -1.2, -1.5], [6.1, -1.2, -1.5], [5.8, -1.2, -1.5, -1.65], [5.5, -1.2, -1.5, -1.8], [5.2, -1.2, -1.5, -1.8], [4.9, -1.2, -1.5, -1.8, -2], [4.6, -1.2, -1.5, -1.8, -2], [4.3, -1.2, -1.5, -1.8, -1.95], [4, -1.2, -1.5, -1.8, -1.95], [3.7, -1.2, -1.5, -1.8], [3.4, -1.2, -1.5, -1.8], [3.1, -1.2, -1.5, -1.75], [2.8, -1.2, -1.5, -1.7], [2.5, -1.2, -1.5, -1.7], [2.2, -1.2, -1.5, -1.65], [1.9, -1.2, -1.5, -1.65], [1.6, -1.2, -1.45]];
const v3UpRows = [[7.45, 1.22, 1.55, 1.75], [7.15, 1.22, 1.55, 1.85], [6.85, 1.22, 1.55, 1.85, 2], [6.55, 1.22, 1.55, 1.85, 2.1], [6.25, 1.22, 1.55, 1.85, 2.15], [5.95, 1.22, 1.55, 1.85, 2.15, 2.3], [5.65, 1.22, 1.55, 1.85, 2.15, 2.4], [5.35, 1.22, 1.55, 1.85, 2.15, 2.4], [5.05, 1.22, 1.55, 1.85, 2.15, 2.45], [4.75, 1.22, 1.55, 1.85, 2.15, 2.45], [4.45, 1.22, 1.55, 1.85, 2.15, 2.45], [4.15, 1.22, 1.55, 1.85, 2.15, 2.45], [3.85, 1.22, 1.55, 1.85, 2.15, 2.45], [3.55, 1.22, 1.55, 1.85, 2.15, 2.45], [3.25, 1.22, 1.55, 1.85, 2.15, 2.4], [2.95, 1.22, 1.55, 1.85, 2.15, 2.35], [2.65, 1.22, 1.55, 1.85, 2.15], [2.35, 1.22, 1.55, 1.85, 2.05], [2.05, 1.22, 1.55, 1.85], [1.75, 1.22, 1.55, 1.75], [1.55, 1.22, 1.5]];
const v3NoneRows = [[6.8, -0.9, 0.8], [6.5, -0.85, 0.76], [6.2, -0.85, 0.72], [5.9, -0.72, 0.72], [5.6, -0.68, -0.9, 0.7], [5.3, -0.64, -0.88, 0.66], [5, -0.6, -0.85, 0.62, 0.88], [4.7, -0.55, -0.82, 0.56, 0.84], [4.4, -0.52, -0.8, 0.52, 0.8], [4.1, -0.48, -0.76, 0.48, 0.76], [3.8, -0.44, -0.72, 0.46, 0.74], [3.5, -0.4, -0.68, 0.44, 0.72], [3.2, -0.36, -0.64, -0.9, 0.42, 0.7], [2.9, -0.32, -0.6, -0.88, 0.42, 0.7], [2.6, -0.3, -0.58, -0.86, 0.42, 0.7], [2.3, -0.26, -0.54, -0.82, 0.4, 0.68], [2, -0.24, -0.52, -0.8, 0.38, 0.66], [1.7, -0.22, -0.5, -0.78, 0.36, 0.64], [1.4, -1.1, -0.76, -0.48, -0.2, 0.34, 0.62, 0.9, 1.2], [1.1, -1.55, -1.2, -0.85, -0.5, -0.15, 0.2, 0.55, 0.9, 1.25, 1.55], [0.85, -1.45, -1.1, -0.75, -0.4, -0.05, 0.3, 0.65, 1, 1.35, 1.5], [0.6, -1.3, -0.95, -0.6, -0.25, 0.1, 0.45, 0.8, 1.15, 1.3], [0.35, -1.15, -0.8, -0.45, -0.1, 0.25, 0.6, 0.95, 1.1], [0.17, -0.85, -0.5, -0.15, 0.2, 0.55, 0.85]];

const v4DownRows = [[7.15, -1.22, -1.4], [6.85, -1.22, -1.55, -1.75], [6.55, -1.22, -1.55, -1.88], [6.25, -1.22, -1.55, -1.88, -2.1], [5.95, -1.22, -1.55, -1.88, -2.21], [5.65, -1.22, -1.55, -1.88, -2.21, -2.4], [5.35, -1.22, -1.55, -1.88, -2.21, -2.54], [5.05, -1.22, -1.55, -1.88, -2.21, -2.54, -2.75], [4.75, -1.22, -1.55, -1.88, -2.21, -2.54, -2.87], [4.45, -1.22, -1.55, -1.88, -2.21, -2.54, -2.87], [4.15, -1.22, -1.55, -1.88, -2.21, -2.54, -2.87], [3.85, -1.22, -1.55, -1.88, -2.21, -2.54, -2.87], [3.55, -1.22, -1.55, -1.88, -2.21, -2.54, -2.8], [3.25, -1.22, -1.55, -1.88, -2.21, -2.54, -2.7], [2.95, -1.22, -1.55, -1.88, -2.21, -2.54], [2.65, -1.22, -1.55, -1.88, -2.21, -2.4], [2.35, -1.22, -1.55, -1.88, -2.15], [2.05, -1.22, -1.55, -1.88, -2.05], [1.75, -1.22, -1.55, -1.8], [1.55, -1.22, -1.5]];
const v4UpRows = [[7.2, 1.18], [6.9, 1.18, 1.4], [6.6, 1.18, 1.5], [6.3, 1.18, 1.5, 1.65], [6, 1.18, 1.5, 1.7], [5.7, 1.18, 1.5, 1.82], [5.4, 1.18, 1.5, 1.82], [5.1, 1.18, 1.5, 1.82, 1.95], [4.8, 1.18, 1.5, 1.82, 2.05], [4.5, 1.18, 1.5, 1.82, 2.14], [4.2, 1.18, 1.5, 1.82, 2.14], [3.9, 1.18, 1.5, 1.82, 2.14], [3.6, 1.18, 1.5, 1.82, 2.14], [3.3, 1.18, 1.5, 1.82, 2.1], [3, 1.18, 1.5, 1.82, 2.05], [2.7, 1.18, 1.5, 1.82, 2], [2.4, 1.18, 1.5, 1.82], [2.1, 1.18, 1.5, 1.8], [1.8, 1.18, 1.5, 1.65], [1.55, 1.18, 1.45]];
const v4NoneRows = [[6.5, -0.85, 0.82], [6.2, -0.82, 0.78], [5.9, -0.82, 0.82], [5.6, -0.76, 0.76], [5.3, -0.72, 0.72], [5, -0.7, 0.7], [4.7, -0.65, -0.9, 0.66], [4.4, -0.6, -0.86, 0.62], [4.1, -0.55, -0.82, 0.58, 0.84], [3.8, -0.52, -0.8, 0.55, 0.82], [3.5, -0.5, -0.78, 0.52, 0.78], [3.2, -0.45, -0.72, 0.48, 0.76], [2.9, -0.38, -0.66, -0.9, 0.46, 0.74], [2.6, -0.34, -0.62, -0.88, 0.42, 0.7], [2.3, -0.3, -0.58, -0.86, 0.4, 0.68], [2, -0.28, -0.56, -0.84, 0.38, 0.66], [1.7, -0.26, -0.54, -0.82, 0.36, 0.64], [1.4, -1.2, -0.8, -0.52, -0.24, 0.34, 0.62, 0.9, 1.3], [1.1, -1.7, -1.35, -1, -0.65, -0.3, 0.05, 0.4, 0.75, 1.1, 1.45, 1.8, 2.05], [0.85, -1.6, -1.25, -0.9, -0.55, -0.2, 0.15, 0.5, 0.85, 1.2, 1.55, 1.85], [0.6, -1.45, -1.1, -0.75, -0.4, -0.05, 0.3, 0.65, 1, 1.35, 1.65], [0.35, -1.2, -0.85, -0.5, -0.15, 0.2, 0.55, 0.9, 1.25, 1.4], [0.17, -0.85, -0.5, -0.15, 0.2, 0.55, 0.85]];

// ---------- threshold guides ----------
const v1Guides = { top: 10.82, left: -7.14, right: 7.41 };
const v2Guides = { top: 10.57, left: -7.2, right: 7.36 };
const v3Guides = { top: 10.13, left: -6.8, right: 7.13 };
const v4Guides = { top: 10.35, left: -6.7, right: 6.95 };
const qThreshold = 1.3;
const foldThreshold = 1;

// ---------- layout (pixels in the 1944 x 1278 page) ----------
const FONT = "Liberation Sans";
const INK = "#1a1a1a";
const pcaBoxes = [
  { l: 227, r: 540, t: 66, b: 405.7, xMin: -65.3, xMax: 62.5, yMin: -163, yMax: 163 },
  { l: 685, r: 998, t: 68, b: 406, xMin: -60.6, xMax: 66.7, yMin: -114, yMax: 115 },
  { l: 1142, r: 1453, t: 62, b: 404, xMin: -71.5, xMax: 70, yMin: -119.8, yMax: 118.8 },
  { l: 1604.7, r: 1926.7, t: 67, b: 405, xMin: -81.3, xMax: 76.4, yMin: -163.9, yMax: 163.3 },
];
const plsBoxes = [
  { l: 222.7, r: 544, t: 500.7, b: 803.7, xMin: -0.05, xMax: 1.05, yMin: -1.306, yMax: 1.11 },
  { l: 686.3, r: 1008, t: 500, b: 802.7, xMin: -0.05, xMax: 1.05, yMin: -1.461, yMax: 1.119 },
  { l: 1142, r: 1463.7, t: 500, b: 802.7, xMin: -0.05, xMax: 1.05, yMin: -1.412, yMax: 1.111 },
  { l: 1605.3, r: 1927, t: 504, b: 807, xMin: -0.05, xMax: 1.05, yMin: -1.272, yMax: 1.108 },
];
const volBoxes = [
  { l: 226, r: 543, t: 899, b: 1220, xMin: -7.57, xMax: 7.52, yMin: -0.54, yMax: 10.97 },
  { l: 688.7, r: 997.7, t: 910, b: 1221.3, xMin: -7.5, xMax: 7.5, yMin: -0.515, yMax: 10.7 },
  { l: 1142, r: 1458.3, t: 899.3, b: 1219.3, xMin: -7.17, xMax: 7.2, yMin: -0.48, yMax: 10.25 },
  { l: 1605.7, r: 1921, t: 910, b: 1221, xMin: -7.1, xMax: 7.07, yMin: -0.47, yMax: 10.47 },
];
const titleCenters = [405, 853, 1319, 1763];
const pcaXTitle = [397, 836.7, 1302.7, 1769];
const pcaYTitle = [[181, 241.7], [636.7, 235], [1095, 235], [1556, 239.7]];
const pcaLegend = [[385.5, 80, 111.7], [831, 89, 120], [1292.7, 88.7, 120], [1773, 88.7, 120]];
const plsXTitle = [[393, 843], [849.3, 843], [1306, 843], [1772, 846.7]];
const plsYTitle = [[177.7, 644.7], [639, 643.8], [1095.7, 641.3], [1560, 648]];
const plsLegendX = [[319, 364, 398, 432, 467], [776, 820.7, 855, 889, 923], [1238, 1283, 1318, 1352, 1386], [1696.7, 1741.3, 1775.7, 1810, 1843.7]];
const plsNotes = [[384, 761, 791], [847, 758, 790], [1303, 758, 790], [1766, 764.7, 793.7]];
const volXTitle = [385.7, 842.7, 1302.7, 1771];
const volYTitle = [[170, 1060.5], [633.3, 1065.8], [1085, 1059.7], [1549.3, 1066]];
const volCounts = [[336, 432, 893], [799, 893.7, 893], [1255, 1359.3, 892], [1708, 1810.7, 890]];
const volQText = [[363, 1172], [822.7, 1174.3], [1277.7, 1170], [1741, 1174.3]];
const volLegendX = [494, 951.7, 1427.3, 1867.3];
const rowLabels = [
  { lines: ["PCA", "analysis"], x: 88, ys: [233, 267] },
  { lines: ["PLS-DA", "analysis"], x: 87, ys: [626, 660] },
  { lines: ["Volcano of", "differential", "metabolites"], x: 74, ys: [1039, 1071, 1104] },
];
const sideBars = [[58, 441], [477, 845], [876, 1268]];

const PCA_A = "#F8766D";
const PCA_B = "#00BFC4";
const GREEN = "#008000";
const RED = "#EE0000";
const GREY = "#BEBEBE";

const fromRows = (rows: number[][]) => rows.flatMap((r) => r.slice(1).map((x) => [x, r[0]]));
const fromCols = (cols: number[][]) => cols.flatMap((vals, i) => vals.map((v) => [plsCor[i], v]));

function buildOption() {
  const grid: any[] = [];
  const xAxis: any[] = [];
  const yAxis: any[] = [];
  const series: any[] = [];
  const graphic: any[] = [];

  const axisCommon = (gridIndex: number, min: number, max: number, ticks: number[], digits: number, shift = 0) => ({
    type: "value",
    gridIndex,
    min,
    max,
    splitLine: { show: false },
    axisLine: { show: true, onZero: false, lineStyle: { color: INK, width: 1.6 } },
    axisTick: { show: true, length: 3, customValues: ticks, lineStyle: { color: INK, width: 1.2 } },
    axisLabel: {
      show: true,
      customValues: ticks,
      margin: 5,
      fontFamily: FONT,
      fontSize: 15,
      fontWeight: "bold",
      color: "#111",
      padding: shift ? [0, 0, 0, shift] : 0,
      formatter: (v: number) => v.toFixed(digits),
    },
  });

  const addGrid = (b: any, xTicks: number[], yTicks: number[], xDigits: number, yDigits: number, shift = 0) => {
    const idx = grid.length;
    grid.push({ left: b.l, top: b.t, width: b.r - b.l, height: b.b - b.t });
    xAxis.push(axisCommon(idx, b.xMin, b.xMax, xTicks, xDigits, shift));
    yAxis.push(axisCommon(idx, b.yMin, b.yMax, yTicks, yDigits));
    return idx;
  };
  const scatter = (idx: number, data: number[][], color: string, size: number) =>
    series.push({ type: "scatter", xAxisIndex: idx, yAxisIndex: idx, data, symbolSize: size, silent: true, itemStyle: { color, opacity: 1 }, clip: false });
  const line = (idx: number, data: number[][], color: string, width: number, extra: any = {}) =>
    series.push({ type: "line", xAxisIndex: idx, yAxisIndex: idx, data, symbol: "none", silent: true, clip: false, lineStyle: { color, width, ...extra.style }, smooth: extra.smooth ?? false, z: extra.z ?? 3 });

  const text = (s: string, x: number, y: number, size: number, o: any = {}) =>
    graphic.push({
      type: "text",
      x,
      y,
      rotation: o.rotate ? Math.PI / 2 : 0,
      z: 20,
      style: { text: s, fontFamily: FONT, fontSize: size, fontWeight: o.weight ?? "bold", fill: o.fill ?? "#000", textAlign: o.align ?? "center", textVerticalAlign: "middle" },
    });

  // frame of the figure
  graphic.push({ type: "rect", z: 20, shape: { x: 167, y: 41, width: 1775, height: 5 }, style: { fill: "#000" } });
  sideBars.forEach(([a, b]) => graphic.push({ type: "rect", z: 20, shape: { x: 148.5, y: a, width: 5, height: b - a }, style: { fill: "#000" } }));
  columnTitles.forEach((t, i) => text(t, titleCenters[i], 18.5, 34));
  rowLabels.forEach((r) => r.lines.forEach((l, i) => text(l, r.x, r.ys[i], 26)));

  // PCA row
  const pcaA = [pca1A, pca2A, pca3A, pca4A];
  const pcaB = [pca1B, pca2B, pca3B, pca4B];
  const ellA = [ell1A, ell2A, ell3A, ell4A];
  const ellB = [ell1B, ell2B, ell3B, ell4B];
  pcaBoxes.forEach((b, i) => {
    const g = addGrid(b, pcaXTicks[i], pcaYTicks[i], 0, 0);
    line(g, ellA[i], PCA_A, 1.6, { smooth: 0.5 });
    line(g, ellB[i], PCA_B, 1.6, { smooth: 0.5 });
    scatter(g, pcaA[i], PCA_A, 7);
    scatter(g, pcaB[i], PCA_B, 7);
    text(pcaXNames[i], pcaXTitle[i], 444, 22);
    text(pcaYNames[i], pcaYTitle[i][0], pcaYTitle[i][1], 22, { rotate: true });
    const [lx, y1, y2] = pcaLegend[i];
    [[y1, PCA_A, pcaGroups[i][0]], [y2, PCA_B, pcaGroups[i][1]]].forEach(([y, c, name]: any) => {
      graphic.push({ type: "line", z: 20, shape: { x1: lx, y1: y, x2: lx + 25, y2: y }, style: { stroke: c, lineWidth: 1.6 } });
      graphic.push({ type: "circle", z: 20, shape: { cx: lx + 12.5, cy: y, r: 3.8 }, style: { fill: c } });
      text(name, lx + 28, y, 15, { align: "left", weight: "normal", fill: "#111" });
    });
  });

  // PLS-DA row
  const plsQ = [p1Q2, p2Q2, p3Q2, p4Q2];
  const plsR = [p1R2, p2R2, p3R2, p4R2];
  const plsL = [p1Lines, p2Lines, p3Lines, p4Lines];
  plsBoxes.forEach((b, i) => {
    const g = addGrid(b, plsXTicks, plsYTicks, 2, 1, 8);
    scatter(g, fromCols(plsQ[i]), "#FF0000", 7);
    scatter(g, fromCols(plsR[i]), "#0000FF", 7);
    line(g, plsL[i].q, "#FF0000", 1.4);
    line(g, plsL[i].r, "#0000FF", 1.8);
    text("Cor", plsXTitle[i][0], plsXTitle[i][1], 23);
    text("Value", plsYTitle[i][0], plsYTitle[i][1], 24, { rotate: true });
    const [tx, qDot, qText, rDot, rText] = plsLegendX[i];
    const ly = 489;
    text("Type", tx, ly, 18, { weight: "normal" });
    graphic.push({ type: "circle", z: 20, shape: { cx: qDot, cy: ly, r: 4 }, style: { fill: "#FF0000" } });
    graphic.push({ type: "circle", z: 20, shape: { cx: rDot, cy: ly, r: 4 }, style: { fill: "#0000FF" } });
    text("Q2", qText, ly, 15, { weight: "normal" });
    text("R2", rText, ly, 15, { weight: "normal" });
    const [nx, n1, n2] = plsNotes[i];
    text(r2Notes[i], nx, n1, 14, { align: "left", weight: "normal" });
    text(q2Notes[i], nx, n2, 14, { align: "left", weight: "normal" });
  });

  // volcano row
  const vDown = [v1Down, v2Down, v3Down, v4Down];
  const vUp = [v1Up, v2Up, v3Up, v4Up];
  const vNone = [v1None, v2None, v3None, v4None];
  const vDownR = [v1DownRows, v2DownRows, v3DownRows, v4DownRows];
  const vUpR = [v1UpRows, v2UpRows, v3UpRows, v4UpRows];
  const vNoneR = [v1NoneRows, v2NoneRows, v3NoneRows, v4NoneRows];
  const vG = [v1Guides, v2Guides, v3Guides, v4Guides];
  volBoxes.forEach((b, i) => {
    const g = addGrid(b, volXTicks, volYTicks, 0, 1);
    scatter(g, fromRows(vNoneR[i]), GREY, 11);
    scatter(g, vNone[i], GREY, 5);
    scatter(g, fromRows(vDownR[i]), GREEN, 13);
    scatter(g, vDown[i], GREEN, 7);
    scatter(g, fromRows(vUpR[i]), RED, 13);
    scatter(g, vUp[i], RED, 7);
    const dots = { style: { type: [2, 7], cap: "butt" }, z: 4 };
    line(g, [[-foldThreshold, b.yMin], [-foldThreshold, vG[i].top]], "#000", 2, dots);
    line(g, [[foldThreshold, b.yMin], [foldThreshold, vG[i].top]], "#000", 2, dots);
    line(g, [[vG[i].left, qThreshold], [vG[i].right, qThreshold]], "#000", 2, dots);
    text(volcanoXNames[i], volXTitle[i], 1261.7, 22.5);
    text("-Log10 (Q value)", volYTitle[i][0], volYTitle[i][1], 20, { rotate: true });
    text(downCounts[i], volCounts[i][0], volCounts[i][2], 25, { fill: GREEN });
    text(upCounts[i], volCounts[i][1], volCounts[i][2], 25, { fill: "#FF0000" });
    text("Q value: 0.05", volQText[i][0], volQText[i][1], 14, { weight: "normal" });
    const bx = volLegendX[i];
    graphic.push({ type: "rect", z: 19, shape: { x: bx, y: 884, width: 71, height: 76 }, style: { fill: "#fff", stroke: "#777", lineWidth: 1, lineDash: [2, 2] } });
    text("Regulated", bx + 36, 891, 14);
    [["Down", GREEN, 914], ["Up", "#FF0000", 934], ["None", GREY, 954]].forEach(([n, c, y]: any) => {
      graphic.push({ type: "circle", z: 20, shape: { cx: bx + 8, cy: y, r: 4.3 }, style: { fill: c } });
      text(n, bx + 24, y - 1, 13, { align: "left" });
    });
  });

  return { animation: false, backgroundColor: "#fff", grid, xAxis, yAxis, series, graphic };
}

export default function App() {
  const ref = useRef<HTMLDivElement>(null);
  useEffect(() => {
    if (!ref.current) return;
    const chart = echarts.init(ref.current, undefined, { renderer: "svg" });
    chart.setOption(buildOption() as any);
    return () => chart.dispose();
  }, []);
  return <div ref={ref} style={{ position: "fixed", left: 0, top: 0, width: 1944, height: 1278 }} />;
}
